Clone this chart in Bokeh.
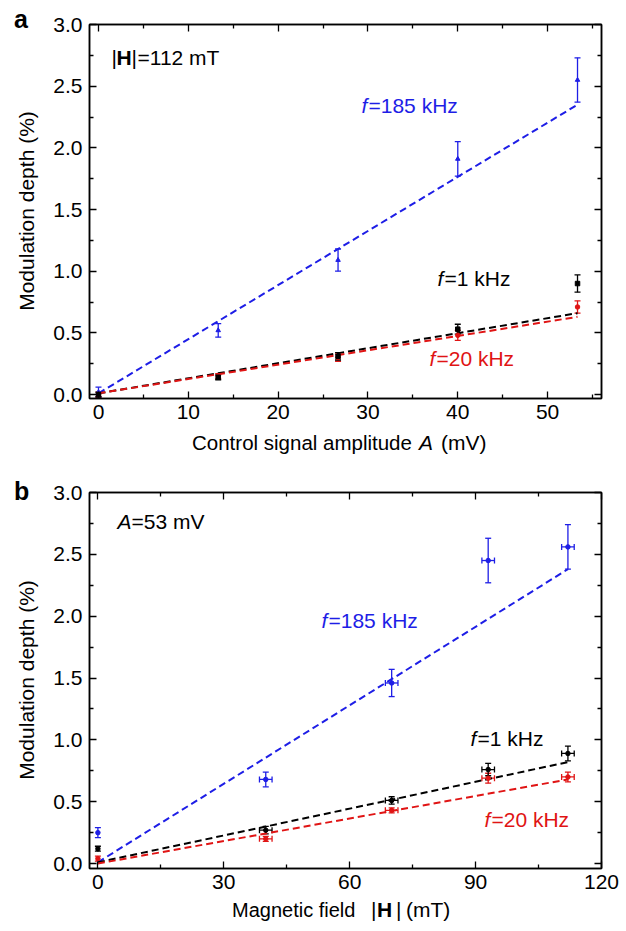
from bokeh.plotting import figure
from bokeh.models import (Range1d, FixedTicker, LinearAxis, Whisker, TeeHead, Div,
                          ColumnDataSource, Label, PrintfTickFormatter, CustomJSTickFormatter)
from bokeh.layouts import column, row
from bokeh.embed import file_html
from bokeh.resources import INLINE

# ---------------- data: panel a (vs control signal amplitude, mV) ----------------
amp_mV = [0, 13.33, 26.67, 40, 53.33]
a_blue = [0.02, 0.52, 1.09, 1.91, 2.55]
a_blue_err = [0.04, 0.055, 0.09, 0.14, 0.18]
a_black = [0.00, 0.14, 0.31, 0.53, 0.90]
a_black_err = [0.02, 0.02, 0.03, 0.04, 0.07]
a_red = [0.00, 0.15, 0.30, 0.48, 0.71]
a_red_err = [0.02, 0.02, 0.03, 0.04, 0.05]
a_fit_x = [0, 53.33]
a_fit_blue = [0.01, 2.35]
a_fit_black = [0.01, 0.66]
a_fit_red = [0.01, 0.63]

# ---------------- data: panel b (vs magnetic field, mT) ----------------
field_mT = [0, 40, 70, 93, 112]
field_err = [0, 1.5, 1.5, 1.5, 1.5]
b_blue = [0.25, 0.68, 1.46, 2.45, 2.56]
b_blue_err = [0.04, 0.06, 0.11, 0.18, 0.18]
b_black = [0.12, 0.27, 0.51, 0.76, 0.89]
b_black_err = [0.02, 0.03, 0.03, 0.05, 0.06]
b_red = [0.04, 0.20, 0.43, 0.69, 0.70]
b_red_err = [0.02, 0.02, 0.02, 0.04, 0.04]
b_fit_x = [0, 112]
b_fit_blue = [0.01, 2.38]
b_fit_black = [0.01, 0.82]
b_fit_red = [0.00, 0.68]

a_xticks = [0, 10, 20, 30, 40, 50]
a_xminor = [5, 15, 25, 35, 45, 55]
b_xticks = [0, 30, 60, 90, 120]
b_xminor = [15, 45, 75, 105]
yticks = [0, 0.5, 1.0, 1.5, 2.0, 2.5, 3.0]
yminor = [0.25, 0.75, 1.25, 1.75, 2.25, 2.75]

BLUE = "#1e1ee6"
RED = "#e01414"
BLACK = "#000000"
FONT = "Liberation Sans"
FS = "21px"
SIDE = 40
LEFT = 49
RIGHT = 20
TOTAL_W = SIDE + LEFT + 512 + RIGHT


def style_axis(ax, ticks, minor, show_labels=True):
    ax.ticker = FixedTicker(ticks=ticks, minor_ticks=minor)
    ax.axis_line_width = 1.5
    ax.axis_line_color = "black"
    ax.major_tick_in = 7
    ax.major_tick_out = 0
    ax.minor_tick_in = 4
    ax.minor_tick_out = 0
    ax.major_tick_line_width = 1.3
    ax.minor_tick_line_width = 1.3
    ax.major_tick_line_color = "black"
    ax.minor_tick_line_color = "black"
    ax.major_label_text_font = FONT
    ax.major_label_text_color = "black"
    if show_labels:
        ax.major_label_text_font_size = FS
    else:
        ax.formatter = CustomJSTickFormatter(code="return ''")
        ax.major_label_text_font_size = "0px"
        ax.major_label_standoff = 0


def make_fig(xr, yr, xt, xm, top, fh, bottom):
    p = figure(frame_width=512, frame_height=fh, min_border_left=LEFT,
               min_border_right=RIGHT, min_border_top=top, min_border_bottom=bottom,
               x_range=Range1d(*xr), y_range=Range1d(*yr), output_backend="svg",
               toolbar_location=None, background_fill_color="white",
               border_fill_color="white")
    p.xgrid.visible = False
    p.ygrid.visible = False
    p.outline_line_color = "black"
    p.outline_line_width = 1.5
    style_axis(p.xaxis[0], xt, xm)
    style_axis(p.yaxis[0], yticks, yminor)
    p.xaxis[0].major_label_standoff = 6
    p.yaxis[0].major_label_standoff = 7
    p.yaxis[0].formatter = PrintfTickFormatter(format="%.1f")
    top_ax = LinearAxis()
    style_axis(top_ax, xt, xm, False)
    p.add_layout(top_ax, "above")
    right_ax = LinearAxis()
    style_axis(right_ax, yticks, yminor, False)
    p.add_layout(right_ax, "right")
    return p


def add_series(p, x, y, yerr, color, marker, xerr=None):
    src = ColumnDataSource(dict(x=x, y=y,
                                lo=[v - e for v, e in zip(y, yerr)],
                                hi=[v + e for v, e in zip(y, yerr)]))
    p.add_layout(Whisker(source=src, base="x", lower="lo", upper="hi", dimension="height",
                         line_color=color, line_width=1.3,
                         upper_head=TeeHead(size=6, line_color=color, line_width=1.3),
                         lower_head=TeeHead(size=6, line_color=color, line_width=1.3)))
    if xerr is not None:
        sx = ColumnDataSource(dict(y=[v for v, e in zip(y, xerr) if e > 0],
                                   lo=[a - e for a, e in zip(x, xerr) if e > 0],
                                   hi=[a + e for a, e in zip(x, xerr) if e > 0]))
        p.add_layout(Whisker(source=sx, base="y", lower="lo", upper="hi", dimension="width",
                             line_color=color, line_width=1.3,
                             upper_head=TeeHead(size=6, line_color=color, line_width=1.3),
                             lower_head=TeeHead(size=6, line_color=color, line_width=1.3)))
    p.scatter("x", "y", source=src, marker=marker, size=4.5, color=color)


def txt(p, x, y, text, color=BLACK, style="normal", size=FS):
    p.add_layout(Label(x=x, y=y, x_units="screen", y_units="screen", text=text,
                       text_font=FONT, text_font_size=size, text_font_style=style,
                       text_color=color, text_align="left", text_baseline="middle"))


def span(left, baseline, text, size, weight="normal", style="normal"):
    top = baseline - 0.8465 * size
    return ('<span style="position:absolute;left:%.1fpx;top:%.1fpx;font-size:%.1fpx;'
            'line-height:%.1fpx;font-weight:%s;font-style:%s;white-space:nowrap;">%s</span>'
            % (left, top, size, size, weight, style, text))


def ytitle(cx, cy):
    return ('<span style="position:absolute;left:%dpx;top:%dpx;font-size:21px;'
            'line-height:21px;white-space:nowrap;transform:translate(-50%%,-50%%) '
            'rotate(-90deg);">Modulation depth (%%)</span>' % (cx, cy))


def html_box(w, h, parts):
    return Div(width=w, height=h, margin=0,
               text=('<div style="position:relative;width:%dpx;height:%dpx;margin:0;'
                     'padding:0;font-family:\'Liberation Sans\';color:black;">%s</div>'
                     % (w, h, "".join(parts))))


# ---------------- panel a ----------------
pa = make_fig((-1, 56), (-0.032, 3.0), a_xticks, a_xminor, 24, 374, 32)
for fy, col in ((a_fit_blue, BLUE), (a_fit_black, BLACK), (a_fit_red, RED)):
    pa.line(a_fit_x, fy, line_color=col, line_width=2, line_dash="7 4")
add_series(pa, amp_mV, a_blue, a_blue_err, BLUE, "triangle")
add_series(pa, amp_mV, a_red, a_red_err, RED, "circle")
add_series(pa, amp_mV, a_black, a_black_err, BLACK, "square")

txt(pa, 22, 341, "|")
txt(pa, 27, 341, "H", style="bold")
txt(pa, 42, 341, "|")
txt(pa, 48, 341, "=112 mT")
txt(pa, 272, 293, "f", BLUE, "italic")
txt(pa, 279, 293, "=185 kHz", BLUE)
txt(pa, 348, 120, "f", BLACK, "italic")
txt(pa, 355, 120, "=1 kHz", BLACK)
txt(pa, 340, 40, "f", RED, "italic")
txt(pa, 347, 40, "=20 kHz", RED)

side_a = html_box(SIDE, 430, [span(14, 28, "a", 25, weight="bold"), ytitle(26, 211)])

strip_a = html_box(TOTAL_W, 47, [
    span(192, 20, "Control signal amplitude", 20.5),
    span(419, 20, "A", 21, style="italic"),
    span(441, 20, "(mV)", 21),
])

# ---------------- panel b ----------------
pb = make_fig((-2, 120), (-0.04, 3.0), b_xticks, b_xminor, 15, 376, 32)
for fy, col in ((b_fit_blue, BLUE), (b_fit_black, BLACK), (b_fit_red, RED)):
    pb.line(b_fit_x, fy, line_color=col, line_width=2, line_dash="7 4")
add_series(pb, field_mT, b_blue, b_blue_err, BLUE, "circle", field_err)
add_series(pb, field_mT, b_red, b_red_err, RED, "circle", field_err)
add_series(pb, field_mT, b_black, b_black_err, BLACK, "circle", field_err)

txt(pb, 28, 347, "A", style="italic")
txt(pb, 42, 347, "=53 mV")
txt(pb, 232, 248, "f", BLUE, "italic")
txt(pb, 239, 248, "=185 kHz", BLUE)
txt(pb, 381, 130, "f", BLACK, "italic")
txt(pb, 388, 130, "=1 kHz", BLACK)
txt(pb, 395, 49, "f", RED, "italic")
txt(pb, 402, 49, "=20 kHz", RED)

side_b = html_box(SIDE, 423, [span(14, 23, "b", 25, weight="bold"), ytitle(26, 203)])

strip_b = html_box(TOTAL_W, 28, [
    span(232, 17, "Magnetic field", 20),
    span(371, 17, "|", 21),
    span(377, 17, "H", 21, weight="bold"),
    span(396, 17, "|", 21),
    span(406, 17, "(mT)", 21),
])

layout = column(row(side_a, pa, spacing=0), strip_a, row(side_b, pb, spacing=0), strip_b,
                spacing=0)
open("out.html", "w").write(file_html(layout, INLINE))
